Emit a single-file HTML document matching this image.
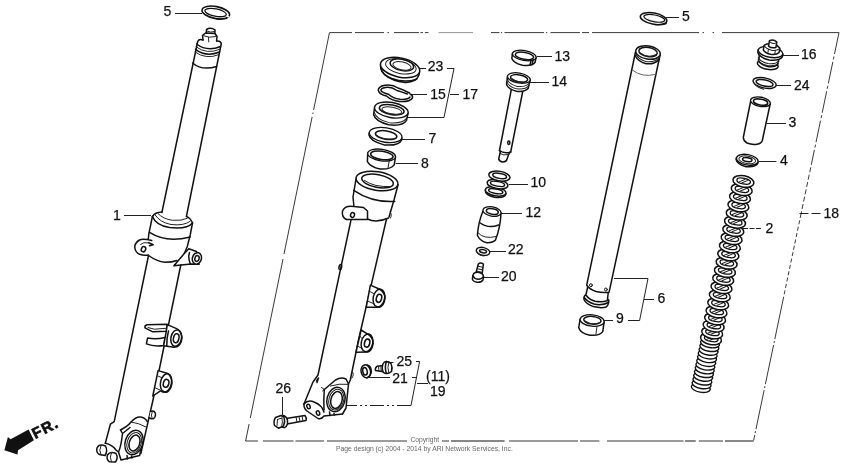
<!DOCTYPE html>
<html><head><meta charset="utf-8"><title>Front Fork</title>
<style>
html,body{margin:0;padding:0;background:#fff;}
svg{display:block;will-change:transform;}
text{font-family:"Liberation Sans",Arial,sans-serif;fill:#111;}
.l{font-size:14px;stroke:#111;stroke-width:0.25px;}
.s{fill:none;stroke:#111;stroke-width:1.5;stroke-linecap:round;stroke-linejoin:round;}
.t{fill:none;stroke:#222;stroke-width:1;stroke-linecap:round;stroke-linejoin:round;}
.w{fill:#fff;stroke:#111;stroke-width:1.5;stroke-linecap:round;stroke-linejoin:round;}
.ld{fill:none;stroke:#222;stroke-width:1;}
</style></head><body>
<svg width="850" height="472" viewBox="0 0 850 472">
<rect width="850" height="472" fill="#fff"/>
<!-- ===== LEFT ASSEMBLED FORK (1) ===== -->
<g id="fork1">
<!-- ring 5 -->
<g transform="rotate(11 215.800 12.500)">
<ellipse class="s" cx="215.800" cy="12.500" rx="14" ry="6" style="stroke-width:1.6"/>
<ellipse class="s" cx="215.600" cy="12.600" rx="10.900" ry="3.700" style="stroke-width:1.3"/>
</g>
<path class="s" d="M216.500 18.800 Q222 19.600 226.700 18.300 L226.300 16.300" style="stroke-width:1.2"/>
<path d="M226.200 16 L229.400 17.200" stroke="#fff" stroke-width="1.400" fill="none"/>
<path class="ld" d="M175 13.500H202"/>
<text class="l" x="163.5" y="16.4">5</text>
<!-- top stud & nut -->
<path class="s" d="M206.3 33 L206.5 29.5 Q210.5 27 215 29.8 L214.8 33.5"/>
<path class="t" d="M206.5 31 Q210.5 33 215 31.5"/>
<path class="s" d="M203 40 L202.5 35.5 L205.5 33 L215 33.5 L217 36.5 L216.6 41"/>
<path class="t" d="M202.5 35.5 Q209 38.5 217 36.5 M208.5 37.5 L208.8 42"/>
<!-- inner tube -->
<path class="s" d="M203 40 Q199 38.5 197.7 41.5 L161.9 212.5"/>
<path class="s" d="M216.6 41 Q220.5 40.5 221.3 43.5 L186.4 216.5"/>
<path class="s" d="M196.6 44 Q207 52 220.6 46.5"/>
<path class="t" d="M196 46.8 Q207 55 220 49.2"/>
<path class="s" d="M195.5 49.4 Q206 57.5 219.6 52"/>
<path class="t" d="M195 52 Q206 60 219 54.6"/>
<path class="s" d="M192.6 63 Q202 71 216.6 66.5"/>
<!-- collar -->
<path class="s" d="M152.400 216.500 Q155 212.300 162 212"/>
<path class="s" d="M152.400 216.500 Q156 225.500 169.500 227.500 Q187 229.500 192.500 223"/>
<path class="t" d="M155 214.800 Q160 222.500 171 224.500 Q184 226 190.200 221.300"/>
<path class="t" d="M158 213.500 Q163 219 172.400 220.300 Q182 221 187.300 218.300"/>
<path class="s" d="M186.500 216.300 Q191 218.500 192.500 223"/>
<path class="s" d="M152.400 216.500 L148.700 234.700 L148 242"/>
<path class="s" d="M192.500 223 L190.200 235 L187.300 246.500 L184.300 253.500"/>
<path class="s" d="M149.500 232.400 Q166 243 190.200 236.900"/>
<path class="s" d="M148.500 255.500 Q157 261.500 165 262.300 Q172 262.300 177 260.500"/>
<!-- left lug -->
<path class="w" d="M151.700 240.600 Q143 238.300 139.500 240 Q134.500 243 134.800 247.500 Q135.500 252.500 139.500 254.300 Q144 255.800 148.500 255"/>
<path class="s" d="M148.700 242.800 L153.200 244.700 L149.500 245.800"/>
<path class="t" d="M140.600 244.300 Q143 241.800 148.500 242.800"/>
<ellipse class="s" cx="143.500" cy="249.200" rx="2.100" ry="2.700" transform="rotate(25 143.500 249.200)"/>
<!-- right lug -->
<path class="w" d="M184.300 253.500 L188.800 248.700 L196.500 251.500 L199 264.300 L191 264 L173.900 265.800 Z"/>
<ellipse class="w" cx="196.900" cy="258.400" rx="4.500" ry="5.800" transform="rotate(15 196.900 258.400)"/>
<path class="s" d="M189.500 252.500 Q187.800 258 190.200 263.600"/>
<ellipse class="s" cx="197" cy="258.500" rx="2.100" ry="2.900" transform="rotate(15 197 258.500)"/>
<!-- outer tube -->
<path class="s" d="M148.500 255.500 L114.2 421.6 L110.4 424.2 L105.3 443.3"/>
<path class="s" d="M180.800 265 L153 400 L140.9 453.4"/>
<!-- clamp -->
<path class="w" d="M167.100 324.300 L147 324.800 Q144.300 325.800 145 327.800 L152.800 331.800 L166.500 331.200 Z"/>
<path class="t" d="M148 327.500 L154.400 329.200 L167.100 328.200"/>
<path class="w" d="M164.900 337.500 Q156 339.800 147.500 338.100 L146.400 343.900 Q154 347 163.900 345.500 Z"/>
<path class="w" d="M167.300 324.600 L176.600 328.600 Q181 331 182 337.500 Q181.500 344.500 177 346.800 L174 347.200 L163.600 345.800 L166.300 331.200 Z"/>
<path class="s" d="M168.500 331 Q166.500 338 166.800 345.800"/>
<ellipse class="s" cx="176.200" cy="338.100" rx="5.300" ry="8.300" transform="rotate(12 176.200 338.100)"/>
<ellipse class="s" cx="176.200" cy="338.200" rx="2.700" ry="4.600" transform="rotate(12 176.200 338.200)" style="stroke-width:1.5"/>
<!-- lower lug -->
<path class="w" d="M158.100 370.600 L167 373.200 Q171.800 376 172 383 Q171 390.500 166.500 392.300 Q163 392.600 160.500 390.800 L152.800 396 Z"/>
<ellipse class="s" cx="166" cy="382.800" rx="5.500" ry="9.200" transform="rotate(12 166 382.800)"/>
<ellipse class="s" cx="166.100" cy="383.300" rx="2.700" ry="4" transform="rotate(15 166.100 383.300)" style="stroke-width:1.5"/>
<path class="t" d="M158 376 L161.500 377.500 M155.500 388 L160 390"/>
<!-- small bolt right -->
<path class="w" d="M150.5 411.5 Q154 410 155.3 413 Q156 417 153.5 418.5 Q150.8 419.5 149.3 417.5"/>
<path class="t" d="M152.3 411.5 Q150.6 415 152 418.5"/>
<!-- bottom boss -->
<path class="s" d="M120.5 430 Q128 426 131 422 Q136 416.5 140.5 417 Q145 417.5 147.3 421.6"/>
<path class="s" d="M120.5 430 L122.5 433.5 L130 427.5 M122.5 433.5 Q121 447 118.5 452"/>
<path class="t" d="M131 422 Q139 423 146 427"/>
<ellipse class="s" cx="134" cy="442.5" rx="8.8" ry="12.5" transform="rotate(18 134 442.5)"/>
<ellipse class="t" cx="134.2" cy="442.7" rx="7" ry="10.5" transform="rotate(18 134.2 442.7)"/>
<ellipse class="s" cx="134.5" cy="443" rx="5.2" ry="8.2" transform="rotate(18 134.5 443)"/>
<path class="s" d="M105.3 443.3 Q112 444.5 116 450 L118.5 452 L121 460 L139.6 455.5 L140.9 450"/>
<path class="s" d="M127 455.5 L127.5 459 M131.5 456 L132 458"/>
<!-- two bolts bottom-left -->
<path class="w" d="M105.5 446 Q99 443.5 97 448 Q95.8 452.5 99.5 454.5 L105 455.5 Q108 451 105.5 446 Z"/>
<path class="t" d="M101 445.5 Q98.5 450 101 455"/>
<path class="w" d="M116 453.5 Q110 451 107.5 455 Q106 459.5 109.5 461.8 L115.5 462 Q118.5 458 116 453.5 Z"/>
<path class="t" d="M111.5 452.5 Q109 457 111.5 462"/>
</g>
<!-- label 1 -->
<path class="ld" d="M124 215.500H151"/>
<text class="l" x="113" y="219.8">1</text>
<!-- FR arrow -->
<polygon points="4.4,450.3 7.9,437 10.6,439.3 28.6,429.6 33.9,440.2 18,450.3 17.5,454.5" fill="#111"/>
<text x="35.2" y="438.9" transform="rotate(-27 35.2 438.9)" style="font-size:15px;font-weight:bold;letter-spacing:1.3px;stroke:#111;stroke-width:0.7px">FR.</text>
<!-- ===== FRAME ===== -->
<g fill="none" stroke="#222" stroke-width="0.9">
<path d="M329.4 32.6H352 M355 32.6H384 M387.5 32.6h1.5 M394 32.6H419 M420.5 32.6h2.5 M425 32.6h3.5 M491 32.6h8.5 M501 32.6h1.2 M504.5 32.6H544 M546 32.6h1.2 M550.5 32.6H580 M582 32.6h7 M592 32.6H699 M702.5 32.6h1.5 M712.5 32.6h1.5 M722 32.6H839"/>
<path d="M438.6 32.6H473" stroke="#888"/>
<path d="M329.4 33 L313.6 110 M313.1 112.5 L312.8 114 M312.1 117 L284.0 254 M283.0 259 L250.3 418 M249.1 424 L245.6 441"/>
<path d="M245.6 441H258 M263 441H293.5 M295.5 441H324 M327 441H407 M442 441H449 M509 441H578 M580 441H599.4 M607 441H683.5 M698.8 441H723"/>
<path d="M451 441H504.6 M685 441H695.7 M725 441H753.6" stroke="#111" stroke-width="1.2"/>
<path d="M839 32.5 L812.3 160" stroke-dasharray="22 2.5 3 2.5"/>
<path d="M812.3 160 L801.2 213" stroke-dasharray="5 2.5"/>
<path d="M801.0 214 L783.0 300" stroke-dasharray="4 2.5"/>
<path d="M783.0 300 L753.6 440.5" stroke-dasharray="40 2 2 2"/>
<path d="M799.5 213.5 H820.5" stroke-dasharray="9 3" stroke-width="1"/>
</g>
<text class="l" x="823.5" y="218">18</text>
<!-- ===== LABELS & LEADERS ===== -->
<g class="ld">
<path d="M420 68.500H426 M447 68.500H454 L444 117.500 H407 M450 94.500H459 M410 94.500H427"/>
<path d="M402 139.500H425 M395.600 163.500H418"/>
<path d="M537 56.500H552 M530 82.500H549 M509 184.500H528 M501 213.500H522 M490 251.500H506 M484 277.500H499"/>
<path d="M666 17.500H679"/>
<path d="M614 278.500H648 L639.600 320.500 H628 M644 299.500H654 M604 320.500H613"/>
<path d="M782.500 55.500H799 M776.300 85.500H791 M766.600 123.500H786 M759 161.500H776.400"/>
<path d="M743 228.500H762" stroke-dasharray="5 1.500"/>
<path d="M282.500 397V415"/>
<path d="M388 362.500H393.500 M368 377.500H390 M416 361.500H419.600 L411 405.500 M412 377.500H416 M417 383.500H428"/>
<path d="M411 405.500H346" stroke-dasharray="14 3 2 3 2 3"/>
</g>
<g class="l">
<text x="427.7" y="71">23</text>
<text x="430.3" y="98.5">15</text>
<text x="462.5" y="98.7">17</text>
<text x="428.5" y="143">7</text>
<text x="421" y="168.4">8</text>
<text x="554.5" y="61">13</text>
<text x="551.5" y="86">14</text>
<text x="530.5" y="187">10</text>
<text x="525.5" y="217.4">12</text>
<text x="508" y="254.1">22</text>
<text x="501" y="281.1">20</text>
<text x="682" y="21.1">5</text>
<text x="657.5" y="303">6</text>
<text x="616" y="323.2">9</text>
<text x="801" y="59">16</text>
<text x="794" y="90">24</text>
<text x="788.5" y="127">3</text>
<text x="780" y="164.8">4</text>
<text x="765.5" y="233.4">2</text>
<text x="275.5" y="393">26</text>
<text x="396.5" y="366.4">25</text>
<text x="392.3" y="383.3">21</text>
<text x="426" y="381.2">(11)</text>
<text x="430" y="396">19</text>
</g>
<g style="font-size:6.3px" fill="#666">
<text x="410.5" y="441.6" style="fill:#666" textLength="28.5" lengthAdjust="spacingAndGlyphs">Copyright</text>
<text x="336" y="450.8" style="fill:#666" textLength="176.8" lengthAdjust="spacingAndGlyphs">Page design (c) 2004 - 2014 by ARI Network Services, Inc.</text>
</g>
<!-- ===== OUTER TUBE (exploded) ===== -->
<g id="outer">
<!-- top opening -->
<ellipse class="s" cx="377" cy="181" rx="21.2" ry="9.3" transform="rotate(9 377 181)"/>
<ellipse class="s" cx="377.500" cy="181" rx="16" ry="6.400" transform="rotate(11 377.500 181)"/>
<path class="t" d="M364.500 180.500 Q374 187.500 391 186.500"/>
<!-- collar -->
<path class="s" d="M356 179 L353 197 L354 207"/>
<path class="s" d="M398 185 L394 200 L389 217"/>
<path class="s" d="M353.700 190.400 Q371.900 202.800 394.700 201.500"/>
<path class="s" d="M367.5 219 Q376 223.5 388.5 218"/>
<path class="t" d="M390 212 Q392.5 214 390.5 218"/>
<!-- lug -->
<path class="w" d="M354 206.5 Q345 205 342.5 211 Q341.5 217 346.5 219.5 L367.5 219.5 L367.5 211 L363.5 207.5 Z"/>
<ellipse class="s" cx="352.5" cy="215" rx="1.9" ry="2.4" transform="rotate(20 352.5 215)"/>
<!-- tube edges -->
<path class="s" d="M351 220 L318 375 L313 382 L304 404"/>
<path class="s" d="M386.5 219 L358.5 340 L350.300 380 L348.500 384 L346 408 L342.500 414"/>
<ellipse class="s" cx="340.3" cy="267" rx="1.3" ry="2.6" transform="rotate(12 340.3 267)"/>
<!-- upper right lug -->
<path class="w" d="M370.4 285.1 L379.7 289.3 Q385.1 292.5 385.0 298.5 Q384.1 305.5 379.5 307.3 L366.2 307.3 Z"/>
<ellipse class="s" cx="378.9" cy="298" rx="5.700" ry="9" transform="rotate(12 378.9 298)"/>
<ellipse class="s" cx="379.0" cy="298.3" rx="2.600" ry="4.100" transform="rotate(14 379.0 298.3)" style="stroke-width:1.6"/>
<path class="t" d="M369.2 291.1 L373.6 293.5 M368.2 301.3 L374.4 304.0"/>
<!-- lower right lug -->
<path class="w" d="M361.1 330.0 L367.8 334.1 Q373.2 337.3 373.1 343.3 Q372.2 350.3 367.6 352.1 L356.0 352.3 Z"/>
<ellipse class="s" cx="367" cy="342.8" rx="5.700" ry="9" transform="rotate(12 367 342.8)"/>
<ellipse class="s" cx="367.1" cy="343.1" rx="2.600" ry="4.100" transform="rotate(14 367.1 343.1)" style="stroke-width:1.6"/>
<path class="t" d="M359.9 336.0 L361.7 338.3 M358.0 346.3 L362.5 348.8"/>
<!-- small bump near bottom right -->
<path class="t" d="M352.5 372 Q354.5 374 352 378"/>
<!-- bottom boss -->
<path class="s" d="M316.500 381 L318.500 378 L317 382.500"/>
<path class="s" d="M324.300 389.500 L335.500 380 Q341 376.800 346 379 L348.500 384"/>
<path class="t" d="M330.500 386 Q339 383.300 348.300 384.300"/>
<path class="t" d="M321.500 387.500 L324.300 389.500 L322.500 391"/>
<path class="s" d="M324.300 389.500 Q323.500 400 324 410"/>
<ellipse class="s" cx="336" cy="399.500" rx="9" ry="12.300" transform="rotate(15 336 399.500)"/>
<ellipse class="t" cx="336.300" cy="399.700" rx="7.400" ry="10.500" transform="rotate(15 336.300 399.700)"/>
<ellipse class="s" cx="336.500" cy="400" rx="5.600" ry="8.600" transform="rotate(15 336.500 400)"/>
<!-- flange -->
<path class="s" d="M304 404 Q303.5 408 307 411 L318 418.5 Q321.5 419.5 324 416 L342.5 414"/>
<path class="s" d="M304 404 Q308 399.5 314 402 Q322 405 324 412"/>
<ellipse class="s" cx="308.5" cy="406.5" rx="1.6" ry="2.3" transform="rotate(-20 308.5 406.5)"/>
<ellipse class="s" cx="318" cy="413" rx="1.6" ry="2.3" transform="rotate(-20 318 413)"/>
<path class="s" d="M329.5 412 L330 415.5 M334 413.5 L334.5 415"/>
<!-- bolt 26 -->
<path class="w" d="M286 418.5 L305 415.5 Q306.8 417.5 306 420.5 L287 424 Z"/>
<path class="t" d="M296 417 L297 422 M299 416.5 L300 421.5 M302 416 L303 421"/>
<path class="w" d="M283 415.5 Q286.5 416 287.5 420.5 Q288 425.5 285 427.5 Q282 428 281 426"/>
<path class="w" d="M275.5 417.5 L281 415.5 L284 417 Q285.5 421.5 283.5 426 L278.5 428.2 L274.5 425.5 Q273.2 421 275.5 417.5 Z"/>
<path class="t" d="M277.5 419.5 L282 418 M277.5 419.5 L277 425.5 M282 418 Q283 422 281.8 425.5"/>
<!-- washer 21 -->
<ellipse class="w" cx="365.800" cy="371.300" rx="4.700" ry="6.500" transform="rotate(-12 365.800 371.300)" style="stroke-width:1.5"/>
<ellipse class="s" cx="365" cy="371.300" rx="2.200" ry="3.800" transform="rotate(-12 365 371.300)"/>
<path class="s" d="M367.300 364.900 Q371.500 366 371.300 372 Q370.500 377 366.800 377.800"/>
<!-- bolt 25 -->
<path class="w" d="M383.500 365.500 L377 366.300 Q374.800 368 375.500 370.500 L383.500 371.800 Z"/>
<path class="t" d="M378.500 366.200 L379 370.800 M380.800 365.800 L381.300 371.200"/>
<path class="w" d="M384.500 362 Q388 360.800 391 363.500 Q392.800 367.500 391.500 371.500 Q389 374 385 373.200 Q382 372.500 382.300 367 Q382.500 363.500 384.500 362 Z"/>
<path class="s" d="M386.500 361.500 Q384.300 367 386.300 373.300"/>
<path class="t" d="M388.800 362 Q387 367.500 388.800 373.300"/>
</g>
<!-- ===== SEALS 23 / 15 / 17 / 7 / 8 ===== -->
<g id="seals">
<!-- 23 dust seal -->
<g transform="rotate(12 400 68)">
<path class="w" d="M380.3 68 Q380 73 386 77.5 Q395 82.5 408 81 Q419 79 420 71 L420 68"/>
<path class="s" d="M381.5 72.5 Q384 78 394 80 Q408 82 418.5 75.5"/>
<ellipse class="w" cx="400" cy="67.5" rx="20" ry="9.6" style="stroke-width:1.5"/>
<ellipse class="t" cx="400.5" cy="66.2" rx="15.5" ry="7.2"/>
<ellipse class="s" cx="401.2" cy="64.6" rx="12" ry="5.6" style="stroke-width:1.4"/>
<ellipse class="t" cx="401.5" cy="65.5" rx="9.3" ry="3.9"/>
</g>
<!-- 15 circlip (wavy) -->
<path class="s" d="M409.5 93 Q403 89.500 398 88 Q392 84 385 85.300 Q378 86.500 378.300 90.500 Q379.500 94.500 386.500 96 Q391.500 100.500 399.500 101.500 Q409.500 102.200 412.500 98 Q413 95 410 94"/>
<path class="s" d="M407.300 94 Q402 92 397 90.500 Q391 86.300 385.500 87.400 Q380.500 88.300 381 90.700 Q382.500 92.800 388.500 94.200 Q393 98.200 400 99.300 Q408 99.800 410 97"/>
<!-- 17 oil seal -->
<g transform="rotate(10 391 112)">
<path class="w" d="M374 110 L374.300 117.500 Q377 123.800 391 125 Q405 124.200 407.700 117.500 L408 110"/>
<path class="t" d="M374.300 115 Q378 122 391 122.800 Q404 122 407.800 115"/>
<ellipse class="w" cx="391" cy="110" rx="17" ry="7.600" style="stroke-width:1.4"/>
<ellipse class="s" cx="391.300" cy="109.600" rx="12.500" ry="4.800"/>
<ellipse class="t" cx="391.500" cy="110.400" rx="10" ry="3.400"/>
</g>
<!-- 7 washer -->
<g transform="rotate(9 385.500 135.800)">
<path class="w" d="M369 135.500 L369 137.500 Q371 143.500 385.500 145 Q400 144 402 137.500 L402 135.500"/>
<ellipse class="w" cx="385.500" cy="135" rx="16.500" ry="7.300" style="stroke-width:1.35"/>
<ellipse class="s" cx="386" cy="135" rx="10.800" ry="4.200"/>
<path class="t" d="M376.500 136.500 Q385 141 396 136.500"/>
</g>
<!-- 8 bush -->
<g transform="rotate(8 381 158)">
<path class="w" d="M367.200 155 L368 163.500 Q372 168.500 381.500 169 Q392 168.300 395 163 L395.200 155"/>
<ellipse class="w" cx="381.200" cy="155" rx="14" ry="5.800" style="stroke-width:1.35"/>
<ellipse class="s" cx="381.500" cy="155.300" rx="11.300" ry="4.200"/>
<path class="t" d="M389.500 160.500 L389.300 167.500"/>
</g>
</g>
<!-- ===== DAMPER PARTS 13 / 14 / 10 / 12 / 22 / 20 ===== -->
<g id="damper">
<!-- 13 ring -->
<g transform="rotate(10 524 57)">
<path class="w" d="M512 55.500 L512.300 60.500 Q515 65 524 65.300 Q533 65 535.800 60.500 L536 55.500"/>
<ellipse class="w" cx="524" cy="55.500" rx="12" ry="5" style="stroke-width:1.3"/>
<ellipse class="s" cx="524.300" cy="55.800" rx="9.300" ry="3.500"/>
<path class="s" d="M531.500 58.500 L531.300 64 M533.500 58 L533.300 63"/>
</g>
<!-- 14 piston + rod -->
<path class="w" d="M511.600 88 L499.500 150.500 L500.300 152 L498.700 159 Q499.500 161.800 503 162 Q506.300 161.800 506.900 159.500 L509 153.500 L510.700 152 L523 90 Z"/>
<path class="s" d="M499.500 150.500 Q504 154 510.700 152"/>
<path class="t" d="M499.800 153.500 Q503.500 156 509 154.500"/>
<ellipse class="s" cx="508.800" cy="142.800" rx="1.100" ry="1.700"/>
<g transform="rotate(10 518.500 80)">
<path class="w" d="M507 78 L507.500 86.500 Q510 91 518.500 91.500 Q527 91 529.500 86.500 L530 78"/>
<path class="t" d="M507.200 81 Q510 86 518.500 86.500 Q527 86 529.800 81"/>
<path class="t" d="M507.400 83.800 Q510 88.500 518.500 89 Q527 88.500 529.600 83.800"/>
<ellipse class="w" cx="518.500" cy="78" rx="11.500" ry="5" style="stroke-width:1.3"/>
<ellipse class="s" cx="518.800" cy="78.300" rx="8.700" ry="3.500"/>
<path class="t" d="M511 79.500 Q518 83.500 526.500 80"/>
</g>
<!-- 10 spring -->
<g transform="rotate(10 497 184)">
<g class="s" style="stroke-width:1.45">
<path class="w" d="M486.500 192 Q487 197 497 197.500 Q507 197 507.500 192"/>
<ellipse class="w" cx="497" cy="191.500" rx="10.500" ry="4.500"/>
<ellipse cx="497" cy="191.300" rx="7.200" ry="2.300"/>
<ellipse class="w" cx="497.500" cy="184" rx="10.500" ry="4.500"/>
<ellipse cx="497.500" cy="183.800" rx="7.200" ry="2.300"/>
<ellipse class="w" cx="498" cy="175.800" rx="10.700" ry="4.800"/>
<ellipse cx="498.200" cy="175.600" rx="7" ry="2.500"/>
</g>
</g>
<!-- 12 oil lock piece -->
<path class="w" d="M483 211 Q478.300 222 477.400 235.500 Q480.500 241.500 487 242.700 Q493 242.800 495.500 240 Q500.500 227 501 213 Z"/>
<ellipse class="w" cx="492" cy="211.500" rx="9.200" ry="4.600" transform="rotate(10 492 211.500)" style="stroke-width:1.3"/>
<ellipse class="s" cx="492.300" cy="211.500" rx="6" ry="2.700" transform="rotate(10 492.300 211.500)"/>
<path class="s" d="M480.300 223 Q488.500 229 498.600 225"/>
<path class="t" d="M478.200 233 Q484 239.500 496.200 236.500"/>
<!-- 22 washer -->
<g transform="rotate(12 483 251.400)">
<ellipse class="w" cx="483" cy="251.400" rx="6.800" ry="3.900" style="stroke-width:1.4"/>
<ellipse class="s" cx="483" cy="251.200" rx="3.600" ry="1.600"/>
<path class="t" d="M476.500 252.500 Q478.500 255.800 484 255.700"/>
</g>
<!-- 20 bolt -->
<path class="w" d="M478.300 264 Q480.500 262 483.400 264 L482 275 L475.800 273.500 Z"/>
<path class="t" d="M478 266.300 L483 267.300 M477.600 268.800 L482.600 269.800 M477.200 271.300 L482.200 272.300"/>
<path class="w" d="M472.800 275.800 Q473.300 272 478 272.200 Q483 272.800 483.500 276.500 L483 279.800 Q481.500 282.600 477.300 282.300 Q472.800 281.600 472.400 279 Z"/>
<path class="s" d="M472.800 275.800 Q474 278.800 478 279.200 Q482 279.200 483.500 276.500"/>
</g>
<!-- ===== INNER TUBE 6 / BUSH 9 / RING 5 ===== -->
<g id="tube6">
<g transform="rotate(11 653.600 18.600)">
<ellipse class="s" cx="653.600" cy="18.600" rx="13.500" ry="5.600" style="stroke-width:1.5"/>
<ellipse class="s" cx="654.200" cy="18.200" rx="10.600" ry="3.400" style="stroke-width:1.2"/>
</g>
<path class="s" d="M655 24.600 Q661 25.200 666.300 23.600 L666.400 21.800" style="stroke-width:1.1"/>
<!-- bottom end (flange + neck) -->
<path class="w" d="M585.8 294.600 Q583.600 296 584 299.500 Q586 304 593.300 306.600 Q601.700 308.600 606 307 Q608.600 305.500 608.800 300.200 L607.300 299 L586 294.500 Z"/>
<path class="s" d="M584.200 297.500 Q587 301.500 594 304 Q602 305.800 608.600 302.500"/>
<path class="w" d="M587.700 287 L585.900 295 Q589 299.500 595.200 301.300 Q602 302.500 607.300 300.800 L608.300 292"/>
<!-- tube body -->
<path class="w" d="M635.500 52 L586.700 285.200 Q590 289.500 596.100 291.500 Q603 293.200 609.100 292.200 L660.300 54 Z"/>
<g transform="rotate(9 648 52.500)">
<path class="t" d="M635.700 55.500 Q640 61.500 648 61.800 Q656 61.500 660.300 55.500"/>
<path class="s" d="M635.700 57.500 Q640 63.500 648 63.800 Q656 63.500 660.300 57.500"/>
<ellipse class="w" cx="648" cy="52.500" rx="12.400" ry="6.600" style="stroke-width:1.4"/>
<ellipse class="s" cx="648" cy="52" rx="9.300" ry="4.600"/>
<path class="t" d="M640.500 54 Q648 58.500 656 53.500"/>
</g>
<path class="t" d="M632.300 70 Q642 78 655.800 74.300" style="stroke:#666"/>
<ellipse class="s" cx="590.900" cy="285.200" rx="1.400" ry="1.500" style="stroke-width:1"/>
<ellipse class="s" cx="605.900" cy="289.500" rx="1.400" ry="1.500" style="stroke-width:1"/>
<!-- bush 9 -->
<g transform="rotate(6 592 321)">
<path class="w" d="M580 320.500 L579.500 329 Q582 334.500 591.500 335.300 Q601 335.300 603.800 330.500 L604.200 320.500"/>
<ellipse class="w" cx="592.100" cy="320.500" rx="12.100" ry="5.700" style="stroke-width:1.35"/>
<ellipse class="s" cx="592.300" cy="320.200" rx="8.700" ry="3.800"/>
<path class="t" d="M585 321.500 Q592 326 600.500 321.500"/>
<path class="t" d="M597.500 326 L597.300 334"/>
</g>
</g>
<!-- ===== RIGHT COLUMN 16 / 24 / 3 / 4 / SPRING 2 ===== -->
<g id="rightcol">
<g id="spring2">
<ellipse class="w" cx="700.8" cy="388.0" rx="9.6" ry="4.2" transform="rotate(10 700.8 388.0)" style="stroke-width:1.4"/>
<ellipse class="w" cx="701.6" cy="384.3" rx="9.6" ry="4.2" transform="rotate(10 701.6 384.3)" style="stroke-width:1.4"/>
<ellipse class="w" cx="702.4" cy="380.6" rx="9.6" ry="4.2" transform="rotate(10 702.4 380.6)" style="stroke-width:1.4"/>
<ellipse class="w" cx="703.1" cy="376.8" rx="9.6" ry="4.2" transform="rotate(10 703.1 376.8)" style="stroke-width:1.4"/>
<ellipse class="w" cx="703.9" cy="373.1" rx="9.6" ry="4.2" transform="rotate(10 703.9 373.1)" style="stroke-width:1.4"/>
<ellipse class="w" cx="704.7" cy="369.4" rx="9.6" ry="4.2" transform="rotate(10 704.7 369.4)" style="stroke-width:1.4"/>
<ellipse class="w" cx="705.4" cy="365.7" rx="9.6" ry="4.2" transform="rotate(10 705.4 365.7)" style="stroke-width:1.4"/>
<ellipse class="w" cx="706.2" cy="362.0" rx="9.6" ry="4.2" transform="rotate(10 706.2 362.0)" style="stroke-width:1.4"/>
<ellipse class="w" cx="707.0" cy="358.2" rx="9.6" ry="4.2" transform="rotate(10 707.0 358.2)" style="stroke-width:1.4"/>
<ellipse class="w" cx="707.7" cy="354.5" rx="9.6" ry="4.2" transform="rotate(10 707.7 354.5)" style="stroke-width:1.4"/>
<ellipse class="w" cx="708.5" cy="350.8" rx="9.6" ry="4.2" transform="rotate(10 708.5 350.8)" style="stroke-width:1.4"/>
<ellipse class="w" cx="709.3" cy="347.1" rx="9.6" ry="4.2" transform="rotate(10 709.3 347.1)" style="stroke-width:1.4"/>
<ellipse class="w" cx="710.0" cy="343.4" rx="9.6" ry="4.2" transform="rotate(10 710.0 343.4)" style="stroke-width:1.4"/>
<g transform="rotate(11 711.0 338.9)"><ellipse class="w" cx="711.0" cy="338.9" rx="10.6" ry="5.7" style="stroke-width:1.5"/><ellipse class="w" cx="711.2" cy="338.6" rx="6.9" ry="2.8" style="stroke-width:1.3"/><path class="t" d="M706.8 340.2 L712.0 336.7 M710.0 340.5 L715.2 337.0"/></g>
<g transform="rotate(11 712.2 332.8)"><ellipse class="w" cx="712.2" cy="332.8" rx="10.6" ry="5.7" style="stroke-width:1.5"/><ellipse class="w" cx="712.4" cy="332.5" rx="6.9" ry="2.8" style="stroke-width:1.3"/><path class="t" d="M708.0 334.1 L713.2 330.6 M711.2 334.4 L716.4 330.9"/></g>
<g transform="rotate(11 713.6 326.0)"><ellipse class="w" cx="713.6" cy="326.0" rx="10.6" ry="5.7" style="stroke-width:1.5"/><ellipse class="w" cx="713.8" cy="325.7" rx="6.9" ry="2.8" style="stroke-width:1.3"/><path class="t" d="M709.4 327.3 L714.6 323.8 M712.6 327.6 L717.8 324.1"/></g>
<g transform="rotate(11 715.1 318.9)"><ellipse class="w" cx="715.1" cy="318.9" rx="10.6" ry="5.7" style="stroke-width:1.5"/><ellipse class="w" cx="715.3" cy="318.6" rx="6.9" ry="2.8" style="stroke-width:1.3"/><path class="t" d="M710.9 320.2 L716.1 316.7 M714.1 320.5 L719.3 317.0"/></g>
<g transform="rotate(11 716.5 311.8)"><ellipse class="w" cx="716.5" cy="311.8" rx="10.6" ry="5.7" style="stroke-width:1.5"/><ellipse class="w" cx="716.7" cy="311.5" rx="6.9" ry="2.8" style="stroke-width:1.3"/><path class="t" d="M712.3 313.1 L717.5 309.6 M715.5 313.4 L720.7 309.9"/></g>
<g transform="rotate(11 718.2 303.9)"><ellipse class="w" cx="718.2" cy="303.9" rx="10.6" ry="5.7" style="stroke-width:1.5"/><ellipse class="w" cx="718.4" cy="303.6" rx="6.9" ry="2.8" style="stroke-width:1.3"/><path class="t" d="M714.0 305.2 L719.2 301.8 M717.2 305.6 L722.4 302.1"/></g>
<g transform="rotate(11 719.8 295.8)"><ellipse class="w" cx="719.8" cy="295.8" rx="10.6" ry="5.7" style="stroke-width:1.5"/><ellipse class="w" cx="720.0" cy="295.5" rx="6.9" ry="2.8" style="stroke-width:1.3"/><path class="t" d="M715.6 297.1 L720.8 293.6 M718.8 297.4 L724.0 293.9"/></g>
<g transform="rotate(11 721.5 287.6)"><ellipse class="w" cx="721.5" cy="287.6" rx="10.6" ry="5.7" style="stroke-width:1.5"/><ellipse class="w" cx="721.7" cy="287.3" rx="6.9" ry="2.8" style="stroke-width:1.3"/><path class="t" d="M717.3 288.9 L722.5 285.4 M720.5 289.2 L725.7 285.7"/></g>
<g transform="rotate(11 723.2 279.4)"><ellipse class="w" cx="723.2" cy="279.4" rx="10.6" ry="5.7" style="stroke-width:1.5"/><ellipse class="w" cx="723.4" cy="279.1" rx="6.9" ry="2.8" style="stroke-width:1.3"/><path class="t" d="M719.0 280.7 L724.2 277.2 M722.2 281.0 L727.4 277.5"/></g>
<g transform="rotate(11 724.9 271.3)"><ellipse class="w" cx="724.9" cy="271.3" rx="10.6" ry="5.7" style="stroke-width:1.5"/><ellipse class="w" cx="725.1" cy="271.0" rx="6.9" ry="2.8" style="stroke-width:1.3"/><path class="t" d="M720.7 272.6 L725.9 269.1 M723.9 272.9 L729.1 269.4"/></g>
<g transform="rotate(11 726.6 263.1)"><ellipse class="w" cx="726.6" cy="263.1" rx="10.6" ry="5.7" style="stroke-width:1.5"/><ellipse class="w" cx="726.8" cy="262.8" rx="6.9" ry="2.8" style="stroke-width:1.3"/><path class="t" d="M722.4 264.4 L727.6 260.9 M725.6 264.7 L730.8 261.2"/></g>
<g transform="rotate(11 728.3 254.9)"><ellipse class="w" cx="728.3" cy="254.9" rx="10.6" ry="5.7" style="stroke-width:1.5"/><ellipse class="w" cx="728.5" cy="254.6" rx="6.9" ry="2.8" style="stroke-width:1.3"/><path class="t" d="M724.1 256.2 L729.3 252.7 M727.3 256.5 L732.5 253.0"/></g>
<g transform="rotate(11 729.9 246.8)"><ellipse class="w" cx="729.9" cy="246.8" rx="10.6" ry="5.7" style="stroke-width:1.5"/><ellipse class="w" cx="730.1" cy="246.5" rx="6.9" ry="2.8" style="stroke-width:1.3"/><path class="t" d="M725.7 248.1 L730.9 244.6 M728.9 248.4 L734.1 244.9"/></g>
<g transform="rotate(11 731.6 238.6)"><ellipse class="w" cx="731.6" cy="238.6" rx="10.6" ry="5.7" style="stroke-width:1.5"/><ellipse class="w" cx="731.8" cy="238.3" rx="6.9" ry="2.8" style="stroke-width:1.3"/><path class="t" d="M727.4 239.9 L732.6 236.4 M730.6 240.2 L735.8 236.7"/></g>
<g transform="rotate(11 733.3 230.4)"><ellipse class="w" cx="733.3" cy="230.4" rx="10.6" ry="5.7" style="stroke-width:1.5"/><ellipse class="w" cx="733.5" cy="230.1" rx="6.9" ry="2.8" style="stroke-width:1.3"/><path class="t" d="M729.1 231.7 L734.3 228.2 M732.3 232.0 L737.5 228.5"/></g>
<g transform="rotate(11 735.0 222.2)"><ellipse class="w" cx="735.0" cy="222.2" rx="10.6" ry="5.7" style="stroke-width:1.5"/><ellipse class="w" cx="735.2" cy="221.9" rx="6.9" ry="2.8" style="stroke-width:1.3"/><path class="t" d="M730.8 223.6 L736.0 220.1 M734.0 223.8 L739.2 220.3"/></g>
<g transform="rotate(11 736.7 214.1)"><ellipse class="w" cx="736.7" cy="214.1" rx="10.6" ry="5.7" style="stroke-width:1.5"/><ellipse class="w" cx="736.9" cy="213.8" rx="6.9" ry="2.8" style="stroke-width:1.3"/><path class="t" d="M732.5 215.4 L737.7 211.9 M735.7 215.7 L740.9 212.2"/></g>
<g transform="rotate(11 738.4 205.9)"><ellipse class="w" cx="738.4" cy="205.9" rx="10.6" ry="5.7" style="stroke-width:1.5"/><ellipse class="w" cx="738.6" cy="205.6" rx="6.9" ry="2.8" style="stroke-width:1.3"/><path class="t" d="M734.2 207.2 L739.4 203.7 M737.4 207.5 L742.6 204.0"/></g>
<g transform="rotate(11 740.0 197.7)"><ellipse class="w" cx="740.0" cy="197.7" rx="10.6" ry="5.7" style="stroke-width:1.5"/><ellipse class="w" cx="740.2" cy="197.4" rx="6.9" ry="2.8" style="stroke-width:1.3"/><path class="t" d="M735.8 199.0 L741.0 195.5 M739.0 199.3 L744.2 195.8"/></g>
<g transform="rotate(11 741.7 189.6)"><ellipse class="w" cx="741.7" cy="189.6" rx="10.6" ry="5.7" style="stroke-width:1.5"/><ellipse class="w" cx="741.9" cy="189.3" rx="6.9" ry="2.8" style="stroke-width:1.3"/><path class="t" d="M737.5 190.9 L742.7 187.4 M740.7 191.2 L745.9 187.7"/></g>
<g transform="rotate(11 743.4 181.4)"><ellipse class="w" cx="743.4" cy="181.4" rx="10.6" ry="5.7" style="stroke-width:1.5"/><ellipse class="w" cx="743.6" cy="181.1" rx="6.9" ry="2.8" style="stroke-width:1.3"/><path class="t" d="M739.2 182.7 L744.4 179.2 M742.4 183.0 L747.6 179.5"/></g>
</g>
<!-- 16 cap bolt -->
<g transform="rotate(10 770 55)">
<ellipse class="w" cx="769.500" cy="65" rx="10.500" ry="4.600" style="stroke-width:1.5"/>
<path class="w" d="M759.500 57 L760 63.300 Q763 66.500 769.800 66.700 Q776.500 66.500 779 63.300 L779.500 57 Z"/>
<path class="t" d="M758.800 59.500 Q762 63.500 769.500 63.800 Q777 63.500 779.800 59.500"/>
<path class="t" d="M759 62 Q762 65.500 769.500 65.800 Q777 65.500 779.600 62"/>
<path class="w" d="M757.500 52 L757.500 54.500 Q760 59.500 770 60 Q780 59.500 782.500 54.500 L782.500 52"/>
<ellipse class="w" cx="770" cy="52" rx="12.500" ry="5.300" style="stroke-width:1.4"/>
<path class="w" d="M762.500 46.500 L762.500 51 Q765 54 770.500 54.200 Q776.500 54 778.500 51 L778.500 46.500 Q775 43.500 770.500 43.500 Q765.500 43.500 762.500 46.500 Z"/>
<path class="t" d="M762.500 47 Q766 50 770.500 50 Q775.500 50 778.500 47 M767.500 49.800 L767.500 53.800 M774.500 49.600 L774.500 53.600"/>
<path class="w" d="M767 41 L767 46.500 Q770.500 48.500 774.500 46.500 L774.500 41 Q770.500 38.500 767 41 Z"/>
<path class="t" d="M767 42 Q770.500 44 774.500 42"/>
</g>
<!-- 24 o-ring -->
<g transform="rotate(12 764.600 83)">
<ellipse class="w" cx="764.600" cy="83" rx="11.800" ry="5" style="stroke-width:1.4"/>
<ellipse class="s" cx="764.600" cy="83" rx="8.600" ry="3.100"/>
<path class="t" d="M754 85 Q757 89 765 89.300"/>
</g>
<!-- 3 spacer -->
<path class="w" d="M750.600 101.500 L743.300 137.500 Q743.500 141 747 143 Q752 145 757 144.200 Q761.500 143.500 762.300 140.500 L770.300 103.500 Z"/>
<g transform="rotate(10 760.400 101.800)">
<ellipse class="w" cx="760.400" cy="101.800" rx="10" ry="4.600" style="stroke-width:1.35"/>
<ellipse class="s" cx="760.600" cy="102" rx="7.200" ry="2.900"/>
</g>
<!-- 4 washer -->
<g transform="rotate(10 747.200 160)">
<path class="w" d="M736.200 160 L736.200 161.500 Q738 166 747.200 166.800 Q756.500 166 758.200 161.500 L758.200 160"/>
<ellipse class="w" cx="747.200" cy="159.800" rx="11" ry="5.200" style="stroke-width:1.4"/>
<ellipse class="t" cx="747.200" cy="159.800" rx="8.500" ry="3.700"/>
<ellipse class="s" cx="747.200" cy="159.600" rx="4.800" ry="1.900"/>
</g>
</g>
</svg></body></html>
